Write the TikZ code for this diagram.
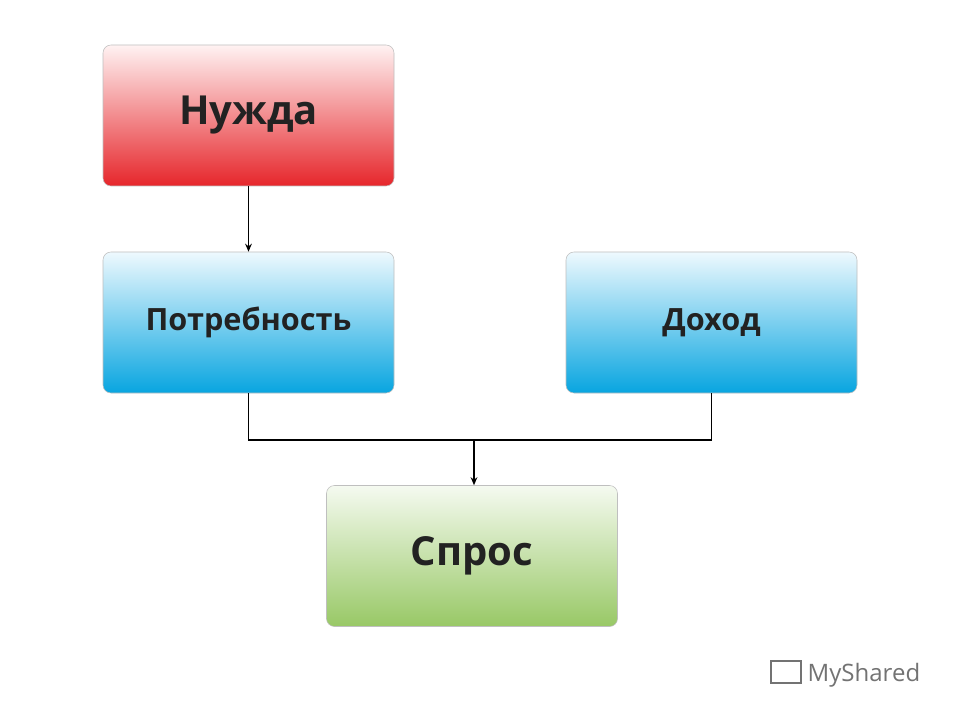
\documentclass[tikz,border=0pt]{standalone}
\usepackage{fontspec}
\setmainfont{Open Sans}
\usetikzlibrary{arrows.meta}
\definecolor{rtop}{HTML}{FFF2F2}\definecolor{rbot}{HTML}{E6262B}
\definecolor{btop}{HTML}{EEF9FE}\definecolor{bbot}{HTML}{08A5E0}
\definecolor{gtop}{HTML}{F5FAF0}\definecolor{gbot}{HTML}{98C866}
\definecolor{txt}{HTML}{222222}
\tikzset{
 box/.style={draw=black!25,rounded corners=6pt,minimum width=291*0.75pt,minimum height=141*0.75pt,text=txt,inner sep=0pt},
 red/.style={box,top color=rtop,bottom color=rbot,font=\bfseries\fontsize{30}{34}\selectfont},
 blu/.style={box,top color=btop,bottom color=bbot,font=\bfseries\fontsize{23}{26}\selectfont},
 grn/.style={box,top color=gtop,bottom color=gbot,font=\bfseries\fontsize{30}{34}\selectfont},
 con/.style={line width=1pt,black},
 arr/.style={con,-{Stealth[length=6pt,width=5pt]}}
}
\begin{document}
\begin{tikzpicture}[x=0.75pt,y=-0.75pt]
\useasboundingbox[fill=white] (0,0) rectangle (960,720);
\node[red] (n) at (248.5,115.5) {Нужда};
\node[blu] (p) at (248.5,322.5) {Потребность};
\node[blu] (d) at (711.5,322.5) {Доход};
\node[grn] (s) at (472,556) {Спрос};
\coordinate (j) at (474,440);
\draw[arr] (n.south) -- (p.north);
\draw[con] (p.south) |- (j);
\draw[con] (d.south) |- (j);
\draw[arr] (j) -- (j|-s.north);
\node[text=black!55,font=\fontsize{18}{20}\selectfont,anchor=west] (logo) at (803,675) {MyShared};
\node[draw=black!55,line width=1.5pt,minimum width=22pt,minimum height=16pt,inner sep=0pt] (ic) at (786,672) {};
\end{tikzpicture}
\end{document}
